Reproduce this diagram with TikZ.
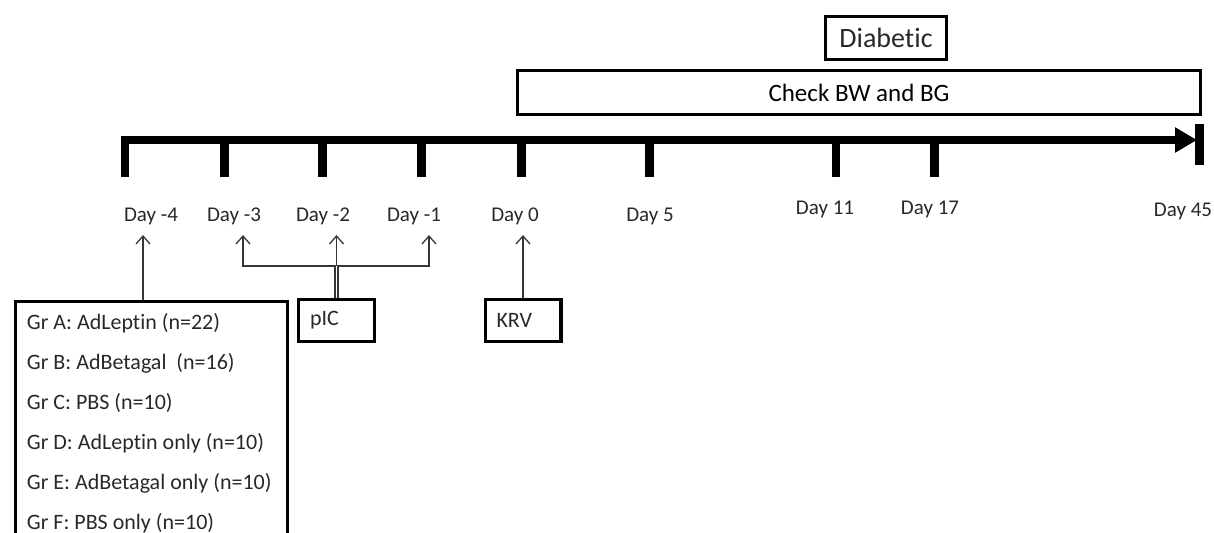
\documentclass[tikz,border=0pt]{standalone}
\usepackage{fontspec}
\setmainfont{Carlito}[Ligatures=NoCommon]
\usetikzlibrary{arrows.meta, calc}
\definecolor{linegray}{RGB}{55,55,55}
\definecolor{textgray}{RGB}{40,40,40}
\tikzset{
  box/.style      = {draw=black, line width=1.7pt, inner sep=0pt},
  listtext/.style = {align=left, execute at begin node={\spaceskip=0pt\xspaceskip=0pt}},
  smallbox/.style = {box, listtext, minimum height=20.8pt, text width=26.5pt, inner xsep=5.65pt,
                     font=\fontsize{11}{13}\selectfont, text=textgray},
  daylabel/.style = {inner sep=0pt, font=\fontsize{10.5}{12}\selectfont, text=textgray},
  daytick/.style  = {line width=4.3pt},
  timeaxis/.style = {line width=4pt, -{Triangle[length=11pt, width=12pt]}},
  arr/.style      = {-{Straight Barb[length=4pt, width=7pt]}, line width=0.65pt, color=linegray},
}

\begin{document}
\begin{tikzpicture}[x=0.5pt, y=-0.5pt]
  \useasboundingbox (0,0) rectangle (1214,532);
  \clip (0,0) rectangle (1214,532);

  % Timeline
  \draw[timeaxis] (121,140) -- (1197,140);
  \foreach \tx/\lx/\ly/\nm/\txt in {125/151/216/m4/{Day -4}, 224.5/234/216/m3/{Day -3},
      322.5/323/216/m2/{Day -2}, 421.5/414/216/m1/{Day -1}, 521.5/515/216/p0/{Day 0},
      649.5/650/216/p5/{Day 5}, 836/825/209/p11/{Day 11}, 934.5/930/209/p17/{Day 17}}
  {
    \draw[daytick] (\tx,140) -- (\tx,177);
    \node[daylabel] (d\nm) at (\lx,\ly) {\txt};
  }
  \draw[daytick] (1199.5,124) -- (1199.5,165);
  \node[daylabel] (dp45) at (1183,211) {Day 45};

  % Monitoring boxes
  \node[box, minimum width=341.3pt, minimum height=21.8pt,
        font=\fontsize{12.5}{15}\selectfont] (check) at (859,92.5) {Check BW and BG};
  \node[box, minimum width=60.3pt, minimum height=21.3pt,
        font=\fontsize{14}{17}\selectfont, text=textgray] (diab) at (886,38) {Diabetic};

  % Treatment boxes
  \node[box, listtext, anchor=north west, inner xsep=5.75pt, inner ysep=5.75pt, text width=124.5pt,
        font=\fontsize{11}{20}\selectfont, text=textgray] (groups) at (13.7,299.7)
        {Gr A: AdLeptin (n=22)\\
         Gr B: AdBetagal\ \ (n=16)\\
         Gr C: PBS (n=10)\\
         Gr D: AdLeptin only (n=10)\\
         Gr E: AdBetagal only (n=10)\\
         Gr F: PBS only (n=10)};
  \node[smallbox] (pic) at (336.5,320.5) {pIC};
  \node[smallbox] (krv) at (523,320.5) {KRV};

  % Arrow tips under the day labels
  \coordinate (tm4) at (143,235);
  \coordinate (tm3) at (243,235);
  \coordinate (tm2) at (336.5,235);
  \coordinate (tm1) at (429,235);
  \coordinate (tp0) at (523,235);

  % Treatments to days
  \draw[arr] (groups.north -| tm4) -- (tm4);
  \draw[arr] ([yshift=16pt]pic.north) -- (tm2);
  \draw[arr] ([xshift=-0.8pt]pic.north) -- ++(0,-32) -| (tm3);
  \draw[arr] ([xshift=0.8pt]pic.north) -- ++(0,-32) -| (tm1);
  \draw[arr] (krv.north) -- (tp0);

\end{tikzpicture}
\end{document}
